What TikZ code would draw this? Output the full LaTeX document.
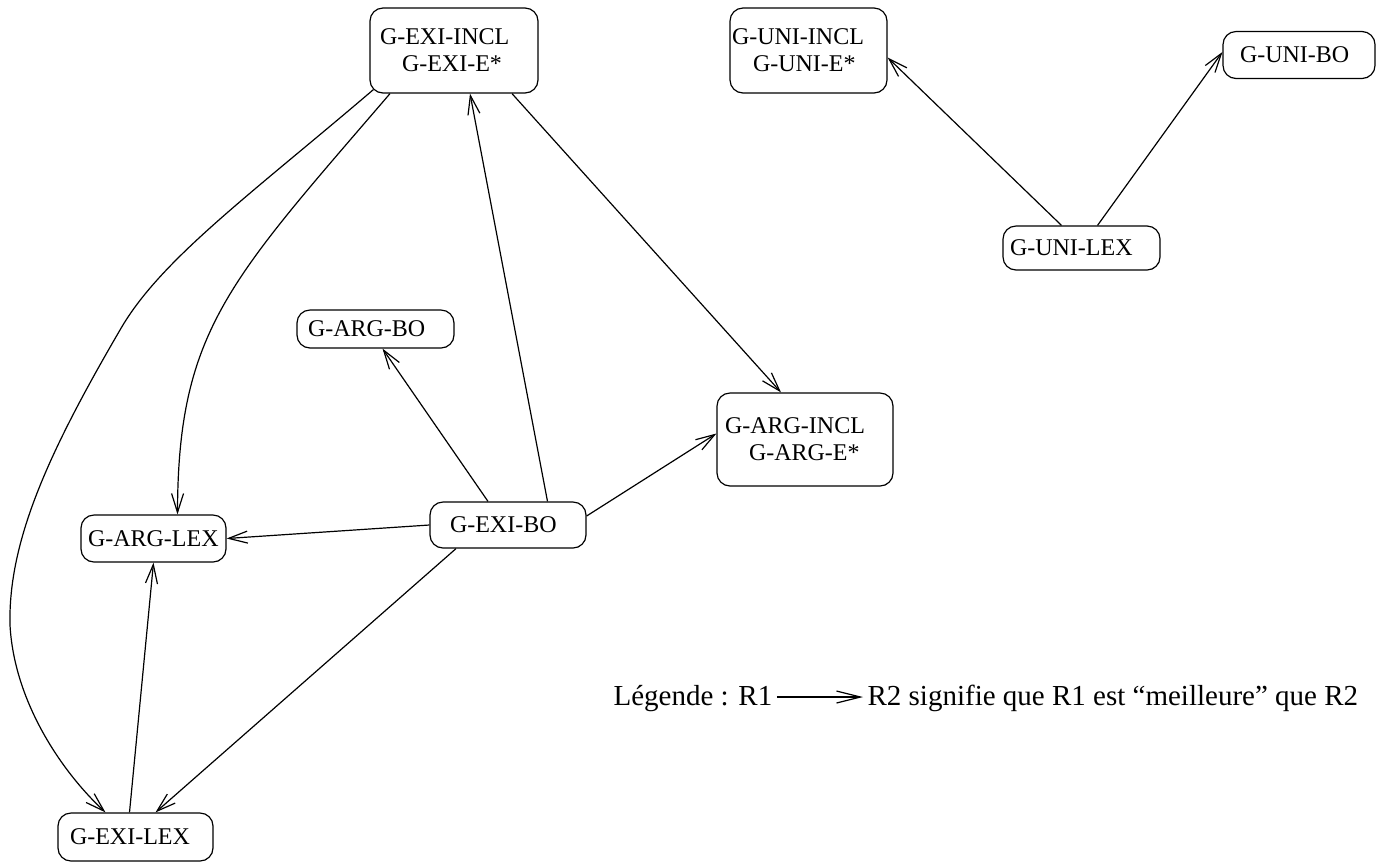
\documentclass[tikz,border=0pt]{standalone}
\usepackage{fontspec}
\setmainfont{Liberation Serif}
\usetikzlibrary{arrows.meta}

\tikzset{
  gbox/.style={draw, rounded corners=6.5pt, align=left, inner ysep=0pt,
    font=\fontsize{12}{13.5}\selectfont},
  pref/.style={-{Straight Barb[length=9.5pt,width=6pt]}},
  legtext/.style={anchor=base west, inner sep=0pt, font=\fontsize{14.5}{17}\selectfont},
}

\begin{document}
\begin{tikzpicture}[x=0.5pt, y=-0.5pt, line width=0.6pt]
  \useasboundingbox (0,0) rectangle (1380,864);

  % boxes
  \node[gbox, text width=74pt, inner xsep=5pt, minimum height=42.5pt] (exiincl) at (454,50.5) {G-EXI-INCL\\\hspace*{11pt}G-EXI-E*};
  \node[gbox, text width=76.5pt, inner xsep=1pt, minimum height=42.5pt] (uniincl) at (808.5,50.5) {G-UNI-INCL\\\hspace*{10.5pt}G-UNI-E*};
  \node[gbox, text width=59pt, inner xsep=8.5pt, minimum height=23.5pt] (unibo) at (1299,55) {G-UNI-BO};
  \node[gbox, text width=71.5pt, inner xsep=3.5pt, minimum height=22pt] (unilex) at (1081.5,248) {G-UNI-LEX};
  \node[gbox, text width=67.5pt, inner xsep=5.5pt, minimum height=19pt] (argbo) at (375.5,329) {G-ARG-BO};
  \node[gbox, text width=80pt, inner xsep=4pt, minimum height=46.5pt] (argincl) at (805,439.5) {G-ARG-INCL\\\hspace*{12pt}G-ARG-E*};
  \node[gbox, text width=65.5pt, inner xsep=3.5pt, minimum height=23.5pt] (arglex) at (153.5,538.5) {G-ARG-LEX};
  \node[gbox, text width=58pt, inner xsep=10pt, minimum height=23pt] (exibo) at (508,525) {G-EXI-BO};
  \node[gbox, text width=65.5pt, inner xsep=6pt, minimum height=24pt] (exilex) at (135.5,837) {G-EXI-LEX};

  % order between the rules
  \draw[pref] ([xshift=19.75pt]exibo.north) -- ([xshift=8pt]exiincl.south);
  \draw[pref] ([yshift=4.5pt]exibo.east) -- ([yshift=3pt]argincl.west);
  \draw[pref] ([xshift=-10pt]exibo.north) -- ([xshift=3.5pt]argbo.south);
  \draw[pref] (exibo.west) -- (arglex.east);
  \draw[pref] ([xshift=-26pt]exibo.south) -- ([xshift=10pt]exilex.north);
  \draw[pref] ([xshift=-3pt]exilex.north) -- (arglex.south);
  \draw[pref] ([xshift=29pt]exiincl.south) -- ([xshift=-12pt]argincl.north);
  \draw[pref] ([xshift=-32pt]exiincl.south) .. controls (230,280) and (178,330) .. ([xshift=12pt]arglex.north);
  \draw[pref] ([shift={(2pt,2pt)}]exiincl.south west) .. controls (250,195) and (160,260) .. (120,330)
    .. controls (50,450) and (8,540) .. (10,625)
    .. controls (14,700) and (60,770) .. ([xshift=-15pt]exilex.north);
  \draw[pref] ([xshift=-10pt]unilex.north) -- ([yshift=-3.5pt]uniincl.east);
  \draw[pref] ([xshift=8pt]unilex.north) -- ([yshift=1.5pt]unibo.west);

  % legend
  \node[legtext] (leg1) at (613,705) {Légende : R1};
  \node[legtext] (leg2) at (867,705) {R2 signifie que R1 est ``meilleure'' que R2};
  \draw[-{Straight Barb[length=12pt,width=6pt]}] ([shift={(2pt,4pt)}]leg1.base east) -- ([shift={(-2pt,4pt)}]leg2.base west);

\end{tikzpicture}
\end{document}
